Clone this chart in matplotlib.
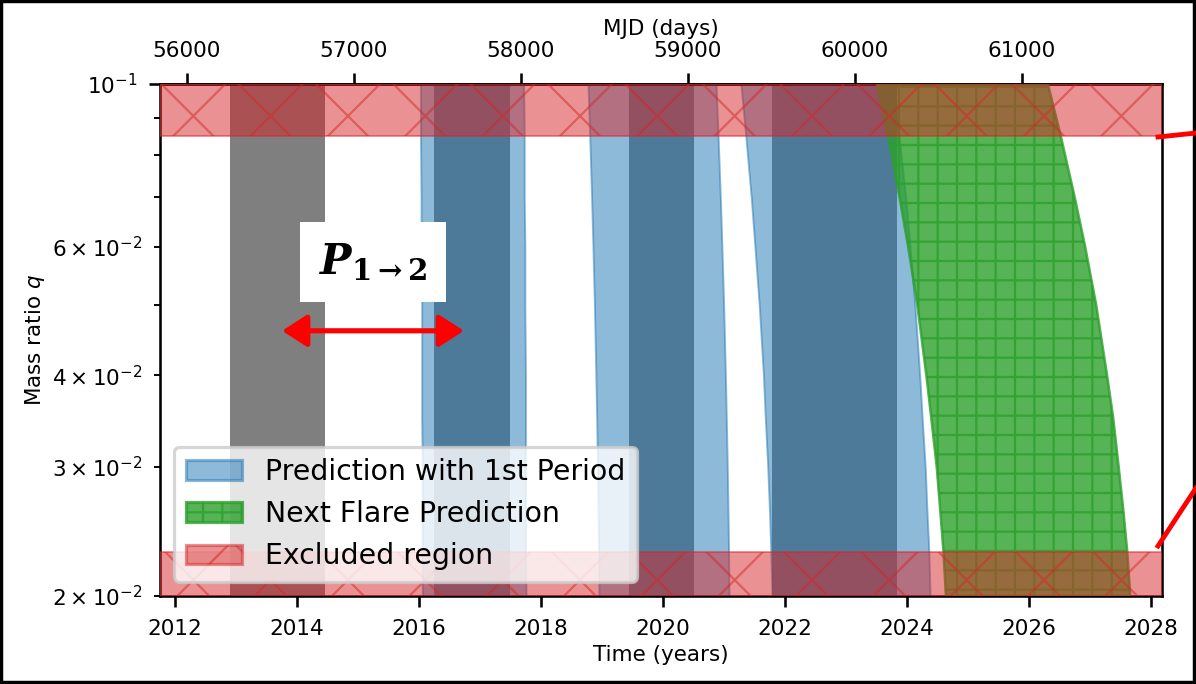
import matplotlib
matplotlib.use("Agg")
import matplotlib.pyplot as plt
from matplotlib.patches import Patch, Rectangle
from matplotlib.lines import Line2D

_DPI = 232
plt.rcParams['hatch.linewidth'] = 0.7
plt.rcParams['font.size'] = 6.7

# values
q_grid = [0.02, 0.023, 0.026, 0.03, 0.035, 0.04, 0.05, 0.06, 0.07, 0.085, 0.1]
q_range = (0.02, 0.1)
excluded_low = (0.02, 0.023)
excluded_high = (0.085, 0.1)
year_range = (2011.762, 2028.172)
mjd_ticks = [56000, 57000, 58000, 59000, 60000, 61000]

gray_spans = [(2012.91, 2014.47), (2016.25, 2017.50),
              (2019.45, 2020.51), (2021.79, 2023.84)]

# edges of the first-period predictions (years) at each q in q_grid
band2_lo = [2016.06, 2016.06, 2016.06, 2016.06, 2016.05, 2016.05, 2016.05, 2016.04, 2016.04, 2016.03, 2016.03]
band2_hi = [2017.76, 2017.75, 2017.75, 2017.75, 2017.75, 2017.75, 2017.74, 2017.74, 2017.73, 2017.73, 2017.72]
band3_lo = [2018.955, 2018.948, 2018.941, 2018.931, 2018.917, 2018.904, 2018.880, 2018.856, 2018.834, 2018.803, 2018.775]
band3_hi = [2021.086, 2021.078, 2021.069, 2021.057, 2021.041, 2021.026, 2020.997, 2020.969, 2020.943, 2020.906, 2020.873]
band4_lo = [2021.79, 2021.77, 2021.75, 2021.72, 2021.68, 2021.65, 2021.58, 2021.51, 2021.45, 2021.36, 2021.28]
band4_hi = [2024.38, 2024.36, 2024.33, 2024.30, 2024.25, 2024.21, 2024.13, 2024.05, 2023.98, 2023.87, 2023.78]

# next flare prediction
next_lo = [2024.64, 2024.60, 2024.55, 2024.49, 2024.40, 2024.32, 2024.17, 2024.02, 2023.88, 2023.69, 2023.51]
next_hi = [2027.66, 2027.61, 2027.55, 2027.47, 2027.38, 2027.28, 2027.10, 2026.92, 2026.75, 2026.52, 2026.31]

legend_labels = ["Prediction with 1st Period", "Next Flare Prediction", "Excluded region"]


def yr2mjd(y):
    return 51544.5 + (y - 2000.0) * 365.25


def mjd2yr(m):
    return 2000.0 + (m - 51544.5) / 365.25


fig = plt.figure(figsize=(1196 / _DPI, 684 / _DPI), dpi=_DPI)
ax = fig.add_axes([160 / 1196, 1 - 596 / 684, 1001.5 / 1196, 512 / 684])

for a, b in gray_spans:
    ax.axvspan(a, b, color='k', alpha=0.5, lw=0, zorder=1)

for lo, hi in [(band2_lo, band2_hi), (band3_lo, band3_hi), (band4_lo, band4_hi)]:
    ax.fill_betweenx(q_grid, lo, hi, facecolor='tab:blue', edgecolor='tab:blue',
                     alpha=0.5, lw=0.6, zorder=2)

ax.fill_betweenx(q_grid, next_lo, next_hi, facecolor='tab:green', edgecolor='tab:green',
                 alpha=0.8, lw=0.8, hatch='++', zorder=3)

for lo, hi in [excluded_low, excluded_high]:
    ax.axhspan(lo, hi, color='tab:red', alpha=0.5, hatch='x', lw=0.6, zorder=4)

ax.set_yscale('log')
ax.set_ylim(*q_range)
ax.set_xlim(*year_range)
ax.set_xlabel("Time (years)", labelpad=2)
ax.set_ylabel("Mass ratio $q$", labelpad=1.5)

top = ax.secondary_xaxis('top', functions=(yr2mjd, mjd2yr))
top.set_xticks(mjd_ticks)
top.set_xlabel("MJD (days)", labelpad=2)

handles = [
    Patch(facecolor='tab:blue', edgecolor='tab:blue', alpha=0.5),
    Patch(facecolor='tab:green', edgecolor='tab:green', alpha=0.8, hatch='++'),
    Patch(facecolor='tab:red', edgecolor='tab:red', alpha=0.5, hatch='x'),
]
ax.legend(handles, legend_labels, loc='lower left', fontsize=8.8)

# period annotation
ax.text(0.2127, 0.652, r'$\mathbfit{P}_{\mathbf{1\rightarrow2}}$', transform=ax.transAxes,
        ha='center', va='center', fontsize=13, math_fontfamily='dejavuserif', zorder=6,
        bbox=dict(facecolor='white', edgecolor='none', boxstyle='square,pad=0.45'))
ax.annotate('', xy=(0.3035, 0.518), xytext=(0.1219, 0.518),
            xycoords='axes fraction', textcoords='axes fraction', zorder=6,
            arrowprops=dict(arrowstyle='<|-|>,head_length=0.65,head_width=0.42',
                            mutation_scale=10, color='red', lw=1.6, shrinkA=0, shrinkB=0))

# connector lines leaving the frame and the outer frame
fig.lines.append(Line2D([1158 / 1196, 1.0], [1 - 137 / 684, 1 - 133 / 684],
                        transform=fig.transFigure, color='red', lw=1.5))
fig.lines.append(Line2D([1158 / 1196, 1.0], [1 - 546 / 684, 1 - 488 / 684],
                        transform=fig.transFigure, color='red', lw=1.5))
fig.patches.append(Rectangle((0, 0), 1, 1, transform=fig.transFigure, fill=False,
                             edgecolor='black', lw=2))

fig.savefig("out.png", dpi=_DPI)
